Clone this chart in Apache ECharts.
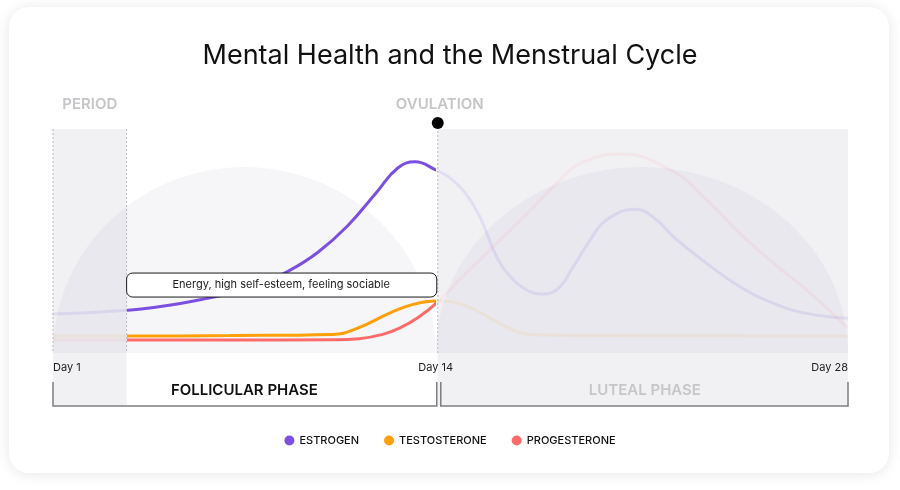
<!DOCTYPE html>
<html>
<head>
<meta charset="utf-8">
<script src="https://cdn.jsdelivr.net/npm/echarts@6/dist/echarts.min.js"></script>
<style>
  html, body { margin: 0; padding: 0; background: #ffffff; }
  #chart { width: 900px; height: 490px; }
</style>
</head>
<body>
<div id="chart"></div>
<script>
// ---- data ----
const seriesNames = ['ESTROGEN', 'TESTOSTERONE', 'PROGESTERONE'];
const seriesColors = ['#7b4fe0', '#ff9f0a', '#ff6b6b'];
const fadedColors = ['rgba(123,79,224,0.12)', 'rgba(255,159,10,0.09)', 'rgba(255,107,107,0.08)'];

const estrogen = [[1,17.4],[2,17.9],[3,18.6],[4,19.6],[5,21.4],[6,23.8],[7,26.5],[8,30.5],[9,36.6],[10,45],[11,56.7],[12,71.9],[12.7,82.5],[13.3,85.4],[14,81.7],[14.5,78],[15,71.5],[15.5,60.8],[16.07,43],[16.64,32.6],[17.2,27.4],[17.55,26.3],[18.1,28.1],[18.67,38.5],[19.24,50.4],[19.8,59.4],[20.8,64.2],[21.5,59.4],[22.07,51.9],[23.2,40],[24.33,29.6],[25.47,22.2],[26.6,17.7],[28,15.5]];
const testosterone = [[1,7.6],[3.5,7.6],[7,7.8],[10.5,8.3],[11.33,11],[12.45,17.9],[13.23,21.7],[14,23.2],[14.94,21.4],[16.07,14],[16.75,9.5],[17.3,8.2],[20,7.8],[28,7.6]];
const progesterone = [[1,5.8],[3.5,5.8],[7,5.8],[10.5,5.9],[11.4,6.4],[12.2,8.3],[12.8,11.3],[13.4,15.8],[14,22],[14.94,34.5],[15.96,47.5],[17.2,63.5],[18.1,75.7],[18.9,84.6],[20.3,88.8],[22.07,80.9],[23.2,68.3],[24.33,53.4],[25.47,40],[26.6,28.1],[28,11]];

const dayTicks = [1, 14, 28];
const phaseBounds = [1, 3.5, 14, 28];       // cycle start, period end, ovulation, cycle end
const archHeight = 83;                       // top of the background arches (y-axis units)
const topLabels = ['PERIOD', 'OVULATION'];
const phaseLabels = ['FOLLICULAR PHASE', 'LUTEAL PHASE'];
const noteText = 'Energy, high self-esteem, feeling sociable';
const titleText = 'Mental Health and the Menstrual Cycle';

const FONT = 'Inter, "Noto Sans", sans-serif';
const chart = echarts.init(document.getElementById('chart'), null, { renderer: 'canvas' });

const seriesData = [estrogen, testosterone, progesterone];

chart.setOption({
  animation: false,
  backgroundColor: 'transparent',
  title: {
    text: titleText, left: 'center', top: 37,
    textStyle: { fontFamily: FONT, fontSize: 27, fontWeight: 400, color: '#111' }
  },
  grid: { left: 53, right: 52, top: 129, bottom: 137 },
  xAxis: {
    type: 'value', min: 1, max: 28, z: 20,
    axisLine: { show: false }, axisTick: { show: false }, splitLine: { show: false },
    axisLabel: {
      customValues: dayTicks, formatter: 'Day {value}', margin: 9,
      alignMinLabel: 'left', alignMaxLabel: 'right',
      fontFamily: FONT, fontSize: 11, color: '#222'
    }
  },
  yAxis: { type: 'value', min: 0, max: 100, show: false },
  legend: {
    data: seriesNames, bottom: 39, left: 'center', icon: 'circle',
    itemWidth: 10, itemHeight: 10, itemGap: 25,
    textStyle: { fontFamily: FONT, fontSize: 11, fontWeight: 500, color: '#111' }
  },
  visualMap: seriesNames.map((n, i) => ({
    type: 'piecewise', show: false, seriesIndex: i, dimension: 0,
    pieces: [
      { gte: phaseBounds[0], lt: phaseBounds[1], color: fadedColors[i] },
      { gte: phaseBounds[1], lte: phaseBounds[2], color: seriesColors[i] },
      { gt: phaseBounds[2], lte: phaseBounds[3], color: fadedColors[i] }
    ]
  })),
  series: seriesNames.map((n, i) => ({
    name: n, type: 'line', data: seriesData[i], smooth: 0.45,
    showSymbol: false, z: 5,
    itemStyle: { color: seriesColors[i] },
    lineStyle: { width: 3 }
  }))
});

function px(day, v) { return chart.convertToPixel({ gridIndex: 0 }, [day, v]); }

const [xStart, yBottom] = px(phaseBounds[0], 0);
const [xPeriod, yTop] = px(phaseBounds[1], 100);
const xOv = px(phaseBounds[2], 0)[0];
const xEnd = px(phaseBounds[3], 0)[0];
const yArch = px(phaseBounds[0], archHeight)[1];
const bracketTop = yBottom + 29, bracketBottom = yBottom + 53;

function arch(d0, d1) {
  const a = px(d0, 0)[0], b = px(d1, 0)[0];
  const r = (b - a) / 2, cx = (a + b) / 2;
  return {
    type: 'sector', z: 1, silent: true,
    shape: { cx: cx, cy: yBottom, r: r, r0: 0, startAngle: Math.PI, endAngle: Math.PI * 2 },
    originX: cx, originY: yBottom, scaleY: (yBottom - yArch) / r,
    style: { fill: 'rgba(90,100,140,0.055)' }
  };
}
function dashed(x, y0) {
  return { type: 'line', z: 3, silent: true, shape: { x1: x, y1: y0, x2: x, y2: yBottom },
    style: { stroke: '#b9b9bf', lineWidth: 1, lineDash: [2, 2] } };
}
function txt(x, y, s, color, size, weight, align) {
  return { type: 'text', z: 12, silent: true, x: x, y: y,
    style: { text: s, fill: color, fontFamily: FONT, fontSize: size, fontWeight: weight,
      align: align || 'center', verticalAlign: 'middle' } };
}

const graphics = [
  { type: 'rect', z: -5, silent: true, shape: { x: 9, y: 7, width: 880, height: 466, r: 20 },
    style: { fill: '#ffffff', shadowBlur: 14, shadowColor: 'rgba(0,0,0,0.10)', shadowOffsetY: 1 } },
  { type: 'rect', z: 0, silent: true, shape: { x: xStart, y: yTop, width: xPeriod - xStart, height: bracketBottom - 1 - yTop },
    style: { fill: '#f1f1f4' } },
  { type: 'rect', z: 0, silent: true, shape: { x: xOv + 2, y: yTop, width: xEnd - xOv - 2, height: bracketBottom - 1 - yTop },
    style: { fill: '#f1f1f4' } },
  arch(phaseBounds[0], phaseBounds[2]),
  arch(phaseBounds[2], phaseBounds[3]),
  dashed(xStart, yTop), dashed(xPeriod, yTop), dashed(xOv + 2, yTop - 6),
  { type: 'circle', z: 12, silent: true, shape: { cx: xOv + 2, cy: yTop - 6, r: 6 }, style: { fill: '#000' } },
  txt((xStart + xPeriod) / 2, yTop - 25, topLabels[0], '#c6c6c9', 15, 600),
  txt(xOv + 4, yTop - 25, topLabels[1], '#c6c6c9', 15, 600),
  { type: 'rect', z: 12, silent: true,
    shape: { x: xPeriod, y: px(0, 35.7)[1], width: xOv + 1 - xPeriod, height: 24, r: 6 },
    style: { fill: '#ffffff', stroke: '#1a1a1a', lineWidth: 1 } },
  txt((xPeriod + xOv) / 2, px(0, 35.7)[1] + 12, noteText, '#1a1a1a', 11, 400),
  { type: 'polyline', z: 12, silent: true,
    shape: { points: [[xStart, bracketTop], [xStart, bracketBottom], [xOv + 1, bracketBottom], [xOv + 1, bracketTop]] },
    style: { stroke: '#7d7d80', lineWidth: 1.5, fill: null } },
  { type: 'polyline', z: 12, silent: true,
    shape: { points: [[xOv + 5, bracketTop], [xOv + 5, bracketBottom], [xEnd, bracketBottom], [xEnd, bracketTop]] },
    style: { stroke: '#7d7d80', lineWidth: 1.5, fill: null } },
  txt((xStart + xOv) / 2, yBottom + 37, phaseLabels[0], '#111111', 15, 600),
  txt((xOv + xEnd) / 2 + 3, yBottom + 37, phaseLabels[1], '#c6c6c9', 15, 600)
];

chart.setOption({ graphic: { elements: graphics } });
</script>
</body>
</html>
